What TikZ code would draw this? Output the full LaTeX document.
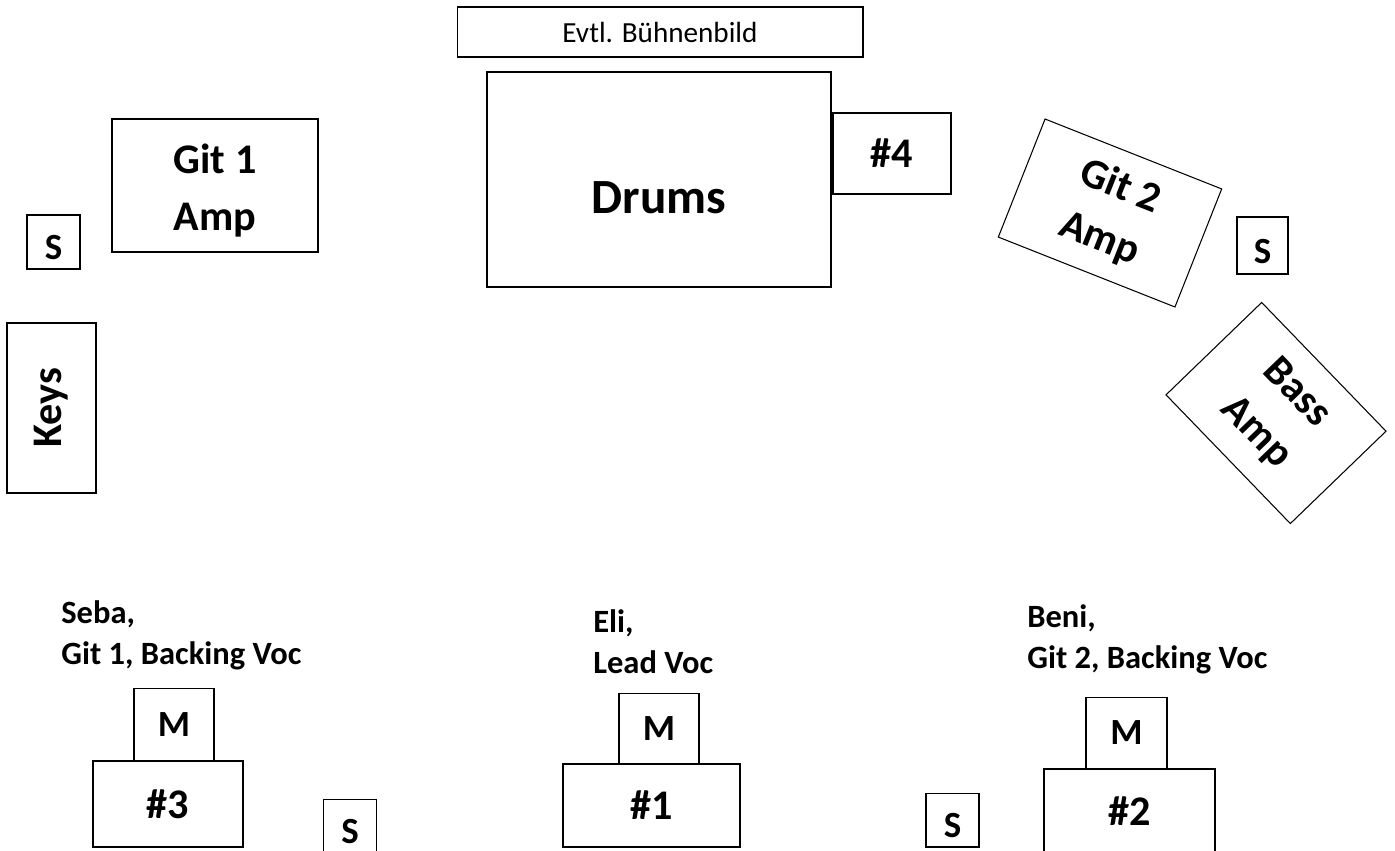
\documentclass[tikz,border=0pt]{standalone}
\usepackage{fontspec}
\setmainfont{Carlito}
\usepackage{tikz}

\tikzset{
  box/.style={draw,rectangle,line width=0.6pt,inner sep=0pt,
    font=\bfseries\fontsize{21}{24}\selectfont},
  bigbox/.style={box,line width=1.1pt,align=center,
    font=\bfseries\fontsize{24}{31.9}\selectfont},
  tilted/.style={bigbox,line width=0.6pt},
  spk/.style={box,minimum width=1.06cm,minimum height=1.08cm,
    label={[inner sep=0pt,font=\bfseries\fontsize{21}{24}\selectfont,yshift=-0.12cm]center:S}},
  mic/.style={box,minimum width=1.6cm,minimum height=1.44cm},
  who/.style={anchor=north west,inner sep=0pt,align=left,
    font=\bfseries\fontsize{18.5}{23.3}\selectfont}
}

\begin{document}
\begin{tikzpicture}[x=0.02cm,y=-0.02cm]
    \clip (0,0) rectangle (1395,850);
    % back line
    \node[box,font=\fontsize{16.6}{20}\selectfont,minimum width=8.12cm,minimum height=1cm] (buehne) at (660,32) {Evtl. Bühnenbild};
    \node[bigbox,minimum width=6.88cm,minimum height=4.3cm,
      label={[inner sep=0pt,font=\bfseries\fontsize{28}{34}\selectfont,yshift=-0.36cm]center:Drums}] (drums) at (659,179.5) {};
    \node[bigbox,minimum width=2.36cm,minimum height=1.62cm] (mon4) at (892,153.5) {\#4};
    % left side
    \node[bigbox,minimum width=4.12cm,minimum height=2.66cm,
      label={[bigbox,draw=none,yshift=-0.1cm]center:Git 1\\Amp}] (gitamp1) at (215,185.5) {};
    \node[spk] (spkkeys) at (53.5,242) {};
    \node[bigbox,rotate=90,minimum width=3.4cm,minimum height=1.78cm] (keys) at (51.5,408) {Keys};
    % right side
    \node[tilted,rotate=-21.6,minimum width=3.8cm,minimum height=2.54cm] (gitamp2) at (1110,213) {Git 2\\Amp};
    \node[spk,minimum width=1.02cm,minimum height=1.14cm] (spkbass) at (1262.5,245.5) {};
    \node[tilted,rotate=-46,minimum width=3.58cm,minimum height=2.66cm] (bassamp) at (1276,413) {Bass\\Amp};
    % front line
    \node[who] (seba) at (61,600) {Seba,\\Git 1, Backing Voc};
    \node[mic,minimum height=1.46cm] (mic3) at (174,724.5) {M};
    \node[bigbox,minimum width=3cm,minimum height=1.72cm] (mon3) at (168,804) {\#3};
    \node[spk] (spk3) at (350,826) {};
    \node[who] (eli) at (593,609) {Eli,\\Lead Voc};
    \node[mic,minimum height=1.42cm] (mic1) at (659,728.5) {M};
    \node[bigbox,minimum width=3.54cm,minimum height=1.66cm] (mon1) at (651.5,805.5) {\#1};
    \node[who] (beni) at (1027,604) {Beni,\\Git 2, Backing Voc};
    \node[mic,minimum width=1.62cm] (mic2) at (1126.5,733) {M};
    \node[bigbox,minimum width=3.42cm,minimum height=1.68cm] (mon2) at (1129.5,811) {\#2};
    \node[spk] (spk2) at (952.5,820) {};
\end{tikzpicture}
\end{document}
